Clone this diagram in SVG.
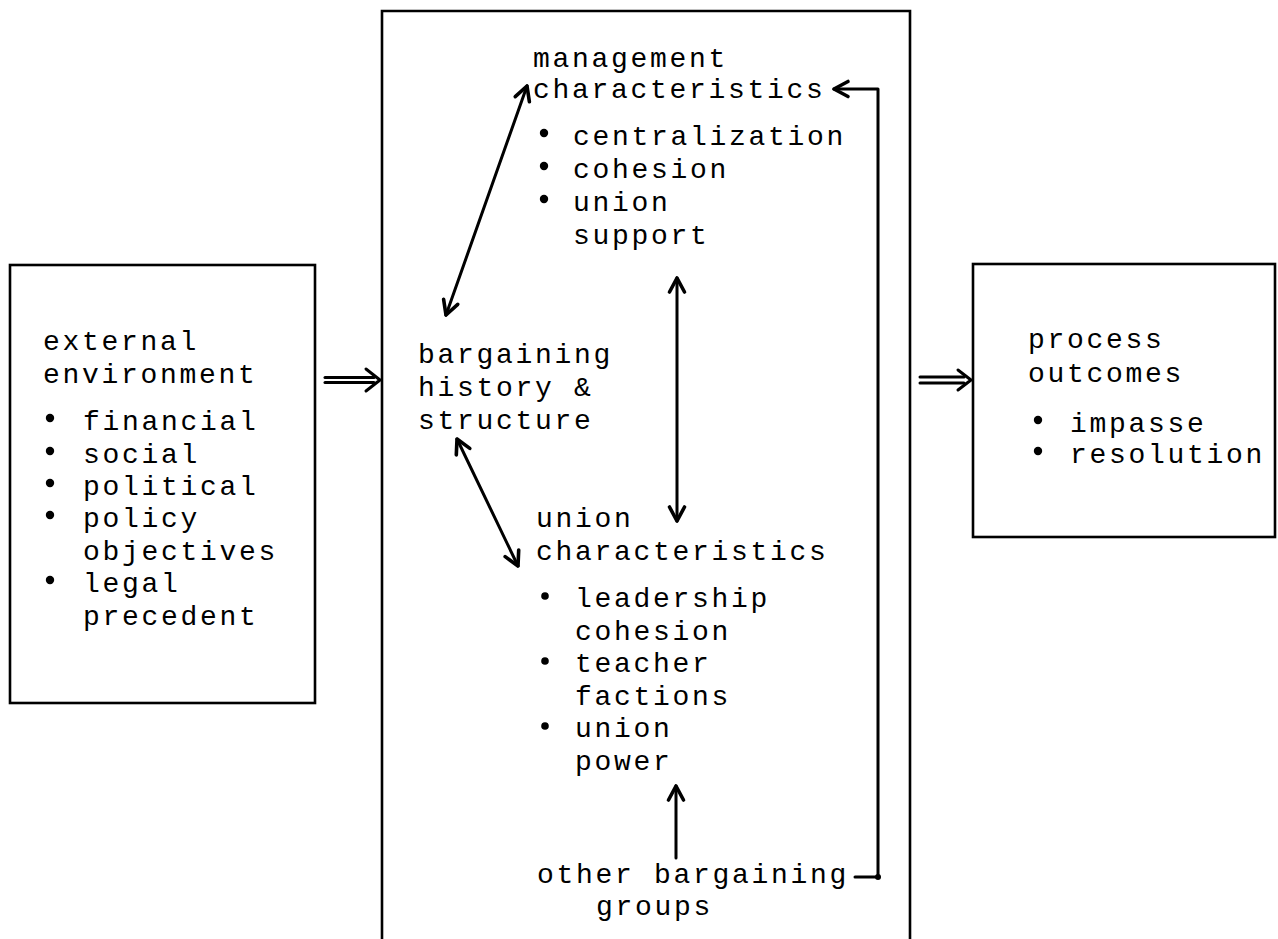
<svg xmlns="http://www.w3.org/2000/svg" width="1278" height="939" viewBox="0 0 1278 939">
<style>
.box{fill:none;stroke:#000;stroke-width:2.6}
.t{font-family:"Liberation Mono","Courier New",monospace;font-size:28px;letter-spacing:2.7px;fill:#000}
.ln{fill:none;stroke:#000;stroke-width:3;stroke-linecap:round;stroke-linejoin:round}
.b{fill:#000}
</style>
<defs>
<marker id="ah" viewBox="-18 -12 22 24" refX="0" refY="0" markerWidth="22" markerHeight="24" markerUnits="userSpaceOnUse" orient="auto-start-reverse">
<path d="M-14,-7.5 L0,0 L-14,7.5" fill="none" stroke="#000" stroke-width="3.6" stroke-linecap="round" stroke-linejoin="round"/>
</marker>
</defs>
<rect width="1278" height="939" fill="#fff"/>

<g id="external-environment">
<rect class="box" x="10" y="265" width="305" height="438"/>
<text class="t"><tspan x="43" y="350">external</tspan><tspan x="43" y="383">environment</tspan>
<tspan x="83" y="430">financial</tspan><tspan x="83" y="463">social</tspan><tspan x="83" y="495">political</tspan><tspan x="83" y="527">policy</tspan><tspan x="83" y="560">objectives</tspan><tspan x="83" y="592">legal</tspan><tspan x="83" y="625">precedent</tspan></text>
<circle class="b" cx="50" cy="418" r="4.2"/><circle class="b" cx="50" cy="451" r="4.2"/><circle class="b" cx="50" cy="483" r="4.2"/><circle class="b" cx="50" cy="515" r="4.2"/><circle class="b" cx="50" cy="580" r="4.2"/>
</g>

<g id="bargaining-process">
<path class="box" d="M382,939 V11 H910 V939"/>
</g>

<g id="management-characteristics">
<text class="t"><tspan x="533" y="67">management</tspan><tspan x="533" y="98">characteristics</tspan>
<tspan x="573" y="145">centralization</tspan><tspan x="573" y="178">cohesion</tspan><tspan x="573" y="211">union</tspan><tspan x="573" y="244">support</tspan></text>
<circle class="b" cx="544" cy="133" r="4.2"/><circle class="b" cx="544" cy="166" r="4.2"/><circle class="b" cx="544" cy="199" r="4.2"/>
</g>

<g id="bargaining-history">
<text class="t"><tspan x="418" y="363">bargaining</tspan><tspan x="418" y="396">history &amp;</tspan><tspan x="418" y="429">structure</tspan></text>
</g>

<g id="union-characteristics">
<text class="t"><tspan x="536" y="527">union</tspan><tspan x="536" y="560">characteristics</tspan>
<tspan x="575" y="607">leadership</tspan><tspan x="575" y="640">cohesion</tspan><tspan x="575" y="672">teacher</tspan><tspan x="575" y="705">factions</tspan><tspan x="575" y="737">union</tspan><tspan x="575" y="770">power</tspan></text>
<circle class="b" cx="545" cy="596" r="3.8"/><circle class="b" cx="545" cy="661" r="3.8"/><circle class="b" cx="545" cy="726" r="3.8"/>
</g>

<g id="other-bargaining-groups">
<text class="t"><tspan x="537" y="883">other bargaining</tspan><tspan x="596" y="915">groups</tspan></text>
</g>

<g id="process-outcomes">
<rect class="box" x="973" y="264" width="302" height="273"/>
<text class="t"><tspan x="1028" y="348">process</tspan><tspan x="1028" y="382">outcomes</tspan>
<tspan x="1070" y="432">impasse</tspan><tspan x="1070" y="463">resolution</tspan></text>
<circle class="b" cx="1038" cy="420" r="4.2"/><circle class="b" cx="1038" cy="451" r="4.2"/>
</g>

<g id="connectors">
<line class="ln" x1="446" y1="315" x2="527" y2="86" marker-start="url(#ah)" marker-end="url(#ah)"/>
<line class="ln" x1="677" y1="278" x2="677" y2="521" stroke-width="3.6" marker-start="url(#ah)" marker-end="url(#ah)"/>
<line class="ln" x1="457" y1="439" x2="518" y2="566" marker-start="url(#ah)" marker-end="url(#ah)"/>
<line class="ln" x1="676" y1="858" x2="676" y2="786" stroke-width="3.4" marker-end="url(#ah)"/>
<path class="ln" d="M855,877 H878 V89 H834" marker-end="url(#ah)"/>
<circle class="b" cx="878" cy="877" r="3"/>
<g id="arrow-in">
<line class="ln" x1="325" y1="377.5" x2="374" y2="377.5" stroke-width="3.4"/>
<line class="ln" x1="325" y1="382.5" x2="374" y2="382.5" stroke-width="3.4"/>
<path class="ln" d="M366,369 L380,380 L366,391" stroke-width="3.2"/>
</g>
<g id="arrow-out">
<line class="ln" x1="920" y1="377" x2="964" y2="377" stroke-width="2.6"/>
<line class="ln" x1="920" y1="383" x2="964" y2="383" stroke-width="2.6"/>
<path class="ln" d="M958,370 L971,380 L958,390" stroke-width="3.2"/>
</g>
</g>
</svg>
